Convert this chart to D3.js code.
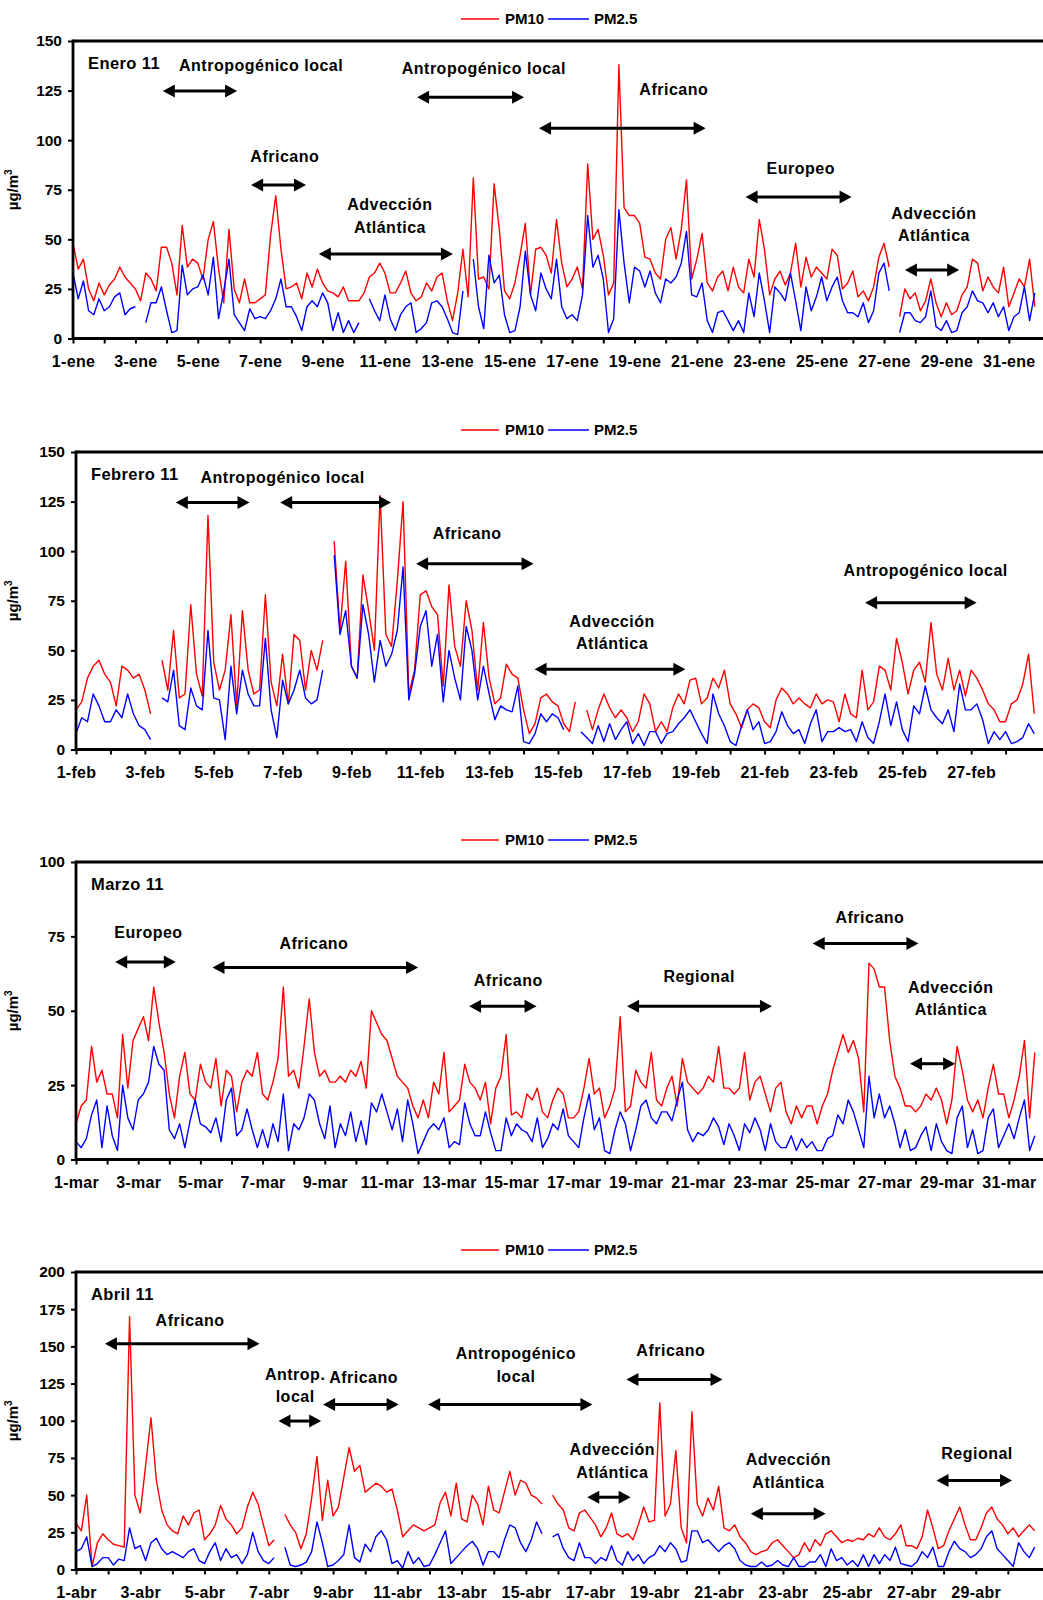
<!DOCTYPE html>
<html>
<head>
<meta charset="utf-8">
<script src="https://cdn.jsdelivr.net/npm/d3@7"></script>
<style>
  body { margin: 0; background: #fff; }
  svg text { font-family: "Liberation Sans", Arial, sans-serif; font-weight: bold; fill: #000; }
</style>
</head>
<body>
<svg id="chart" width="1043" height="1600"></svg>
<script>
// Concentraciones (µg/m3) cada 4 horas: 6 valores por día, null = sin dato.
const enePM10 = [
  48,35,40,25,19,28, 22,27,30,36,31,28, 25,19,33,30,24,46, 46,38,22,57,36,40,
  38,30,50,59,35,18, 55,25,18,30,18,18, 20,22,52,72,45,25, 26,28,20,33,26,35,
  28,24,23,21,26,19, 19,19,23,31,33,38, 33,23,23,28,34,23, 19,21,28,24,31,33,
  19,9,23,45,21,81, 30,31,25,78,55,24, 20,28,42,58,22,45, 46,42,33,60,38,26,
  30,36,25,88,50,55, 42,22,28,138,66,62, 62,58,41,40,33,30, 50,56,40,55,80,30,
  40,53,28,24,31,34, 24,36,26,23,40,31, 60,45,22,30,34,27, 33,48,26,41,31,36,
  33,30,45,42,25,28, 34,21,24,19,26,41, 48,36,null,11,25,20, 23,14,19,30,18,11,
  18,12,14,22,26,40, 38,24,31,26,23,36, 16,23,30,26,40,16
];
const enePM25 = [
  33,20,29,14,12,20, 14,16,21,23,12,15, 16,null,8,18,18,26, 14,3,4,37,22,25,
  26,32,22,41,10,24, 40,12,8,4,15,10, 11,10,14,20,30,16, 16,11,4,16,19,16,
  23,18,4,13,3,9, 3,8,null,20,14,9, 22,10,4,12,16,18, 3,5,8,18,19,16,
  10,3,2,24,null,40, 16,5,42,28,32,12, 3,4,16,44,22,14, 33,25,20,40,16,10,
  12,9,22,62,36,42, 30,3,10,65,38,18, 36,34,26,34,23,18, 30,28,31,38,54,22,
  21,28,9,3,13,14, 9,4,9,3,23,11, 33,19,3,26,23,19, 33,19,4,26,14,21,
  31,19,26,31,19,13, 13,11,18,8,14,33, 38,24,null,3,13,13, 9,8,11,24,6,4,
  9,3,4,13,16,24, 19,18,13,18,11,16, 4,11,13,26,9,23
];
const febPM10 = [
  20,24,36,42,45,38, 34,22,42,40,36,38, 30,18,null,45,30,60, 26,28,73,38,27,118,
  44,30,40,68,22,70, 40,28,30,78,34,22, 48,23,58,55,30,50, 40,55,null,105,60,95,
  42,36,88,70,50,128, 58,52,85,125,28,40, 78,80,72,68,32,83, 52,42,75,60,30,64,
  36,23,26,43,38,36, 20,8,13,26,28,24, 22,13,9,24,null,20, 10,20,28,21,16,20,
  16,9,14,28,23,9, 14,9,21,28,23,35, 36,23,26,36,31,40, 23,18,11,20,23,21,
  14,11,25,31,28,23, 26,23,21,28,23,25, 24,14,28,18,16,40, 20,24,42,40,30,56,
  44,28,40,44,34,64, 38,30,46,30,40,27, 40,36,30,23,20,14, 14,23,25,33,48,18
];
const febPM25 = [
  8,16,14,28,22,14, 14,20,16,28,18,12, 10,5,null,26,24,40, 12,10,31,22,20,60,
  26,25,5,42,18,40, 28,22,22,56,20,6, 35,23,30,40,26,23, 25,40,null,98,58,70,
  42,36,73,58,34,55, 42,48,60,92,25,38, 62,70,42,58,24,50, 36,25,62,50,25,42,
  28,15,22,20,19,32, 4,3,8,18,14,18, 16,10,null,null,9,6, 3,12,4,13,5,10,
  14,3,8,2,9,9, 3,8,9,13,16,20, 14,8,3,28,18,12, 4,2,12,20,10,14,
  3,4,9,19,12,8, 10,3,13,20,4,9, 9,11,9,10,4,14, 6,3,14,28,12,24,
  10,4,22,18,32,20, 16,13,20,9,33,20, 20,23,15,3,9,5, 9,3,4,6,13,8
];
const marPM10 = [
  12,18,20,38,26,30, 22,22,14,42,24,40, 44,48,40,58,46,36, 22,14,28,36,22,20,
  32,26,24,34,18,30, 28,16,26,30,28,36, 22,20,26,34,58,28, 30,24,38,54,36,28,
  30,26,26,28,26,30, 28,33,24,50,46,42, 40,34,28,26,24,18, 14,20,14,26,22,36,
  16,18,20,32,26,24, 20,26,12,24,28,42, 15,16,14,22,20,24, 16,14,20,24,22,14,
  14,16,24,34,22,24, 14,18,24,48,16,18, 30,26,24,36,20,18, 24,28,18,34,26,24,
  22,24,28,26,38,24, 24,22,24,36,20,26, 28,22,16,24,26,16, 12,18,14,18,18,12,
  18,22,30,36,42,36, 40,34,16,66,64,58, 58,40,28,24,18,18, 16,18,22,20,24,20,
  12,20,38,30,20,16, 20,14,24,32,22,22, 14,20,28,40,14,36
];
const marPM25 = [
  6,4,7,15,20,4, 18,8,3,25,14,10, 20,22,26,38,32,30, 10,7,12,4,13,20,
  12,11,9,14,6,20, 24,8,10,17,10,4, 10,4,12,6,22,3, 12,10,14,22,20,12,
  7,18,4,12,8,16, 6,13,5,19,16,22, 16,10,17,6,20,12, 2,6,10,12,10,14,
  4,6,5,19,12,8, 8,16,9,3,3,14, 8,12,10,9,6,14, 4,7,12,10,17,8,
  6,4,14,22,10,14, 3,2,10,16,12,3, 10,18,20,14,12,16, 16,13,20,26,10,6,
  9,8,10,14,11,5, 12,8,3,12,9,14, 10,3,12,6,4,4, 8,3,7,4,6,3,
  3,7,8,15,12,20, 16,10,4,28,14,22, 14,18,12,4,10,3, 4,8,11,3,12,6,
  3,2,14,18,4,10, 2,3,14,17,4,8, 12,7,14,20,3,8
];
const abrPM10 = [
  31,26,50,2,18,24, 20,17,16,15,170,50, 38,70,102,60,40,30, 26,24,36,30,38,40,
  20,24,30,43,34,30, 24,28,42,52,44,30, 16,20,null,37,30,25, 14,24,48,76,33,60,
  36,42,62,82,66,70, 52,55,58,56,52,54, 40,22,26,30,28,26, 28,30,45,52,36,58,
  34,32,50,44,30,56, 40,38,52,66,50,60, 58,50,48,44,null,50, 44,40,28,26,38,40,
  35,30,22,28,38,24, 22,24,20,30,42,32, 33,112,36,44,80,28, 18,106,44,36,48,40,
  56,28,26,30,22,18, 12,10,12,13,18,20, 16,12,8,10,18,12, 20,16,24,26,22,18,
  20,19,21,20,24,22, 28,22,20,24,30,16, 16,14,22,40,28,14, 16,26,34,42,30,20,
  20,28,38,42,34,30, 24,28,22,26,30,26
];
const abrPM25 = [
  12,14,22,2,4,8, 8,3,7,6,28,14, 16,6,18,21,14,10, 12,10,8,12,14,6,
  4,12,18,6,14,8, 10,4,10,25,12,6, 4,8,null,15,3,2, 3,5,12,32,18,2,
  3,6,10,30,8,5, 17,12,22,26,20,4, 6,1,12,4,8,2, 3,10,18,26,4,8,
  12,16,19,14,3,12, 12,8,20,30,28,18, 12,20,32,24,null,22, 24,14,8,6,18,8,
  8,4,8,6,16,6, 3,12,6,10,4,8, 10,16,12,18,14,5, 6,26,26,18,20,16,
  12,16,18,14,6,3, 2,2,5,2,3,6, 3,2,8,2,2,5, 5,10,2,14,6,8,
  3,6,2,10,2,10, 4,10,6,15,4,3, 2,5,12,8,15,2, 2,12,19,14,12,8,
  10,14,22,26,14,10, 6,2,18,12,8,15
];

// Episodios: texto (día, valor) y flecha de día a0 a día a1 al nivel ay.
const eneNotes = [
  { lines: ["Antropogénico local"], tx: 6.03, ty: 137.8, a0: 2.88, a1: 5.26, ay: 124.8 },
  { lines: ["Antropogénico local"], tx: 13.17, ty: 136, a0: 11.03, a1: 14.46, ay: 121.7 },
  { lines: ["Africano"], tx: 6.79, ty: 91.6, a0: 5.71, a1: 7.47, ay: 77.4 },
  { lines: ["Advección", "Atlántica"], tx: 10.16, ty: 67.6, a0: 7.88, a1: 12.18, ay: 42.6 },
  { lines: ["Africano"], tx: 19.26, ty: 125.5, a0: 14.94, a1: 20.28, ay: 106 },
  { lines: ["Europeo"], tx: 23.33, ty: 86, a0: 21.56, a1: 24.96, ay: 71.3 },
  { lines: ["Advección", "Atlántica"], tx: 27.6, ty: 63.1, a0: 26.67, a1: 28.41, ay: 34.6 }
];
const febNotes = [
  { lines: ["Antropogénico local"], tx: 6.0, ty: 137.4, a0: 2.9, a1: 5.04, ay: 124.6 },
  { lines: [], a0: 5.93, a1: 9.15, ay: 124.6 },
  { lines: ["Africano"], tx: 11.36, ty: 108.8, a0: 9.88, a1: 13.29, ay: 93.7 },
  { lines: ["Advección", "Atlántica"], tx: 15.57, ty: 64.7, a0: 13.32, a1: 17.7, ay: 40.4 },
  { lines: ["Antropogénico local"], tx: 24.68, ty: 90.3, a0: 22.92, a1: 26.16, ay: 74 }
];
const marNotes = [
  { lines: ["Europeo"], tx: 2.33, ty: 76.5, a0: 1.26, a1: 3.21, ay: 66.4 },
  { lines: ["Africano"], tx: 7.65, ty: 72.6, a0: 4.39, a1: 11.0, ay: 64.5 },
  { lines: ["Africano"], tx: 13.9, ty: 60.3, a0: 12.64, a1: 14.81, ay: 51.5 },
  { lines: ["Regional"], tx: 20.04, ty: 61.7, a0: 17.72, a1: 22.38, ay: 51.5 },
  { lines: ["Africano"], tx: 25.53, ty: 81.5, a0: 23.69, a1: 27.09, ay: 72.6 },
  { lines: ["Advección", "Atlántica"], tx: 28.13, ty: 58, a0: 26.82, a1: 28.27, ay: 32.2 }
];
const abrNotes = [
  { lines: ["Africano"], tx: 3.55, ty: 167.5, a0: 0.9, a1: 5.71, ay: 151.8 },
  { lines: ["Antrop.", "local"], tx: 6.82, ty: 131.2, a0: 6.3, a1: 7.63, ay: 99.8 },
  { lines: ["Africano"], tx: 8.95, ty: 129.4, a0: 7.69, a1: 10.04, ay: 111 },
  { lines: ["Antropogénico", "local"], tx: 13.69, ty: 145.2, a0: 10.96, a1: 16.07, ay: 111 },
  { lines: ["Africano"], tx: 18.51, ty: 147.3, a0: 17.13, a1: 20.12, ay: 127.8 },
  { lines: ["Advección", "Atlántica"], tx: 16.69, ty: 80.5, a0: 15.91, a1: 17.26, ay: 48.6 },
  { lines: ["Advección", "Atlántica"], tx: 22.17, ty: 73.8, a0: 21.0, a1: 23.33, ay: 37.5 },
  { lines: ["Regional"], tx: 28.04, ty: 77.8, a0: 26.78, a1: 29.13, ay: 59.9 }
];

const months = [
  { title: "Enero 11", abbr: "ene", days: 31, ymax: 150, pm10: enePM10, pm25: enePM25, notes: eneNotes },
  { title: "Febrero 11", abbr: "feb", days: 28, ymax: 150, pm10: febPM10, pm25: febPM25, notes: febNotes },
  { title: "Marzo 11", abbr: "mar", days: 31, ymax: 100, pm10: marPM10, pm25: marPM25, notes: marNotes },
  { title: "Abril 11", abbr: "abr", days: 30, ymax: 200, pm10: abrPM10, pm25: abrPM25, notes: abrNotes }
];

const frames = [
  { top: 41, left: 73 },
  { top: 452, left: 76 },
  { top: 862, left: 76 },
  { top: 1272, left: 76 }
];
const plotH = 297.5, plotRight = 1040, edge = 1043;
const svg = d3.select("#chart");

function arrow(g, x0, x1, y) {
  const hl = 12, hh = 6.5;
  g.append("line").attr("x1", x0 + hl - 1).attr("x2", x1 - hl + 1).attr("y1", y).attr("y2", y)
    .attr("stroke", "#000").attr("stroke-width", 3);
  g.append("path").attr("d", `M${x0},${y}L${x0 + hl},${y - hh}L${x0 + hl},${y + hh}Z`).attr("fill", "#000");
  g.append("path").attr("d", `M${x1},${y}L${x1 - hl},${y - hh}L${x1 - hl},${y + hh}Z`).attr("fill", "#000");
}

months.forEach((m, k) => {
  const f = frames[k];
  const top = f.top, bottom = f.top + plotH, left = f.left;
  const g = svg.append("g");
  const x = d3.scaleLinear().domain([0, m.days]).range([left, plotRight]);
  const y = d3.scaleLinear().domain([0, m.ymax]).range([bottom, top]);

  // series
  const line = d3.line().defined(d => d != null).x((d, i) => x(i / 6)).y(d => y(d));
  g.append("path").datum(m.pm10).attr("d", line).attr("fill", "none")
    .attr("stroke", "#ff0000").attr("stroke-width", 1.4).attr("stroke-linejoin", "round");
  g.append("path").datum(m.pm25).attr("d", line).attr("fill", "none")
    .attr("stroke", "#0000ff").attr("stroke-width", 1.4).attr("stroke-linejoin", "round");

  // axes
  const yAxis = d3.axisLeft(y).tickValues(d3.range(0, m.ymax + 1, 25)).tickSize(5).tickSizeOuter(0).tickPadding(6);
  const gy = g.append("g").attr("transform", `translate(${left},0)`).call(yAxis);
  gy.select(".domain").remove();
  gy.selectAll(".tick line").attr("stroke", "#000").attr("stroke-width", 2);
  gy.selectAll(".tick text").style("font-size", "15.5px").style("font-family", "'Liberation Sans', Arial, sans-serif").style("font-weight", "bold");

  const xAxis = d3.axisBottom(x).tickValues(d3.range(0, m.days)).tickSize(5).tickSizeOuter(0).tickPadding(12)
    .tickFormat(d => d % 2 === 0 ? `${d + 1}-${m.abbr}` : "");
  const gx = g.append("g").attr("transform", `translate(0,${bottom})`).call(xAxis);
  gx.select(".domain").remove();
  gx.selectAll(".tick line").attr("stroke", "#000").attr("stroke-width", 2);
  gx.selectAll(".tick text").style("font-size", "16px").style("letter-spacing", "0.3px")
    .style("font-family", "'Liberation Sans', Arial, sans-serif").style("font-weight", "bold");

  g.append("line").attr("x1", left).attr("x2", edge).attr("y1", top).attr("y2", top).attr("stroke", "#000").attr("stroke-width", 2.8);
  g.append("line").attr("x1", left).attr("x2", edge).attr("y1", bottom).attr("y2", bottom).attr("stroke", "#000").attr("stroke-width", 2.8);
  g.append("line").attr("x1", left).attr("x2", left).attr("y1", top - 1.4).attr("y2", bottom + 1.4).attr("stroke", "#000").attr("stroke-width", 2.8);

  // y label
  const yl = g.append("text").attr("transform", `translate(18,${(top + bottom) / 2}) rotate(-90)`)
    .attr("text-anchor", "middle").style("font-size", "15px");
  yl.append("tspan").text("µg/m");
  yl.append("tspan").attr("dy", "-6").style("font-size", "10px").text("3");

  // legend
  const ly = top - 22;
  g.append("line").attr("x1", 461).attr("x2", 499).attr("y1", ly).attr("y2", ly).attr("stroke", "#ff0000").attr("stroke-width", 1.4);
  g.append("text").attr("x", 505).attr("y", ly).attr("dy", "0.35em").style("font-size", "15px").text("PM10");
  g.append("line").attr("x1", 548).attr("x2", 589).attr("y1", ly).attr("y2", ly).attr("stroke", "#0000ff").attr("stroke-width", 1.4);
  g.append("text").attr("x", 594).attr("y", ly).attr("dy", "0.35em").style("font-size", "15px").text("PM2.5");

  // title
  g.append("text").attr("x", left + 15).attr("y", top + 22).attr("dy", "0.35em")
    .style("font-size", "16.5px").style("letter-spacing", "0.4px").text(m.title);

  // episodes
  m.notes.forEach(n => {
    n.lines.forEach((t, j) => {
      g.append("text").attr("x", x(n.tx)).attr("y", y(n.ty) + j * 22.5).attr("dy", "0.35em")
        .attr("text-anchor", "middle").style("font-size", "16px").style("letter-spacing", "0.5px").text(t);
    });
    arrow(g, x(n.a0), x(n.a1), y(n.ay));
  });
});
</script>
</body>
</html>
